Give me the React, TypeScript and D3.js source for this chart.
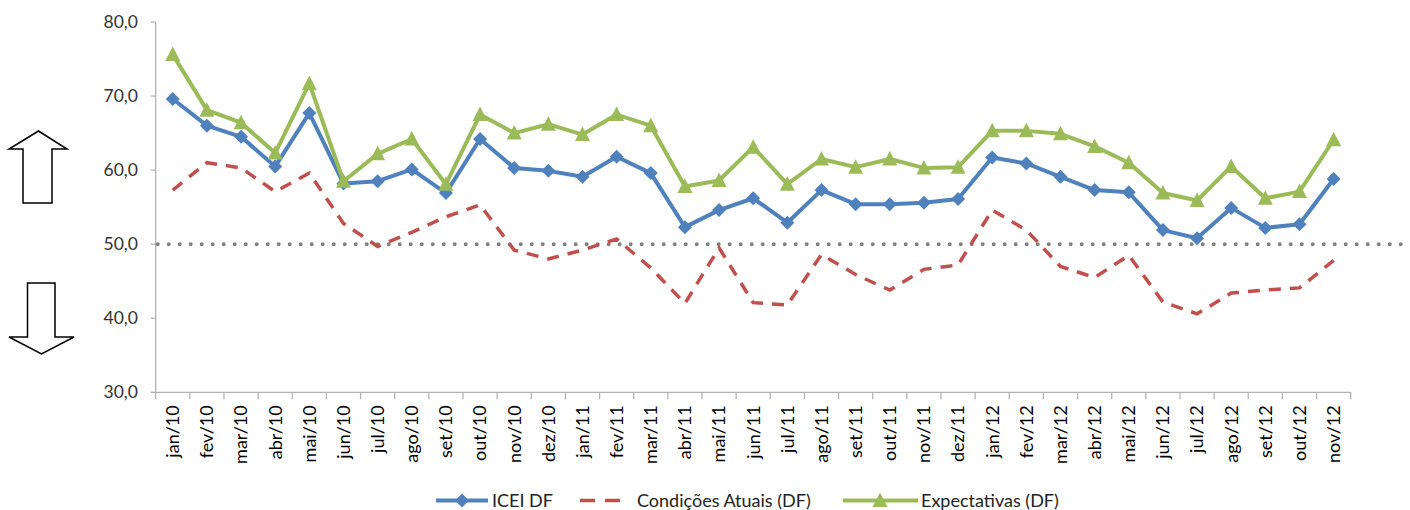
import * as d3 from "d3";

const months = [
  "jan/10", "fev/10", "mar/10", "abr/10", "mai/10", "jun/10", "jul/10", "ago/10", "set/10", "out/10", "nov/10", "dez/10",
  "jan/11", "fev/11", "mar/11", "abr/11", "mai/11", "jun/11", "jul/11", "ago/11", "set/11", "out/11", "nov/11", "dez/11",
  "jan/12", "fev/12", "mar/12", "abr/12", "mai/12", "jun/12", "jul/12", "ago/12", "set/12", "out/12", "nov/12",
];

const icei = [
  69.6, 66.0, 64.5, 60.5, 67.7, 58.2, 58.5, 60.1, 56.9, 64.2, 60.3, 59.9,
  59.1, 61.8, 59.6, 52.3, 54.6, 56.2, 52.9, 57.3, 55.4, 55.4, 55.6, 56.1,
  61.7, 60.9, 59.1, 57.3, 57.0, 51.9, 50.8, 54.9, 52.2, 52.7, 58.8,
];

const condicoes = [
  57.3, 61.0, 60.3, 57.1, 59.6, 52.8, 49.7, 51.6, 53.7, 55.3, 49.2, 48.0,
  49.2, 50.7, 46.8, 42.0, 49.5, 42.1, 41.8, 48.6, 45.9, 43.8, 46.6, 47.2,
  54.6, 51.9, 47.0, 45.5, 48.5, 42.2, 40.6, 43.4, 43.8, 44.1, 47.8,
];

const expectativas = [
  75.6, 68.1, 66.4, 62.3, 71.7, 58.5, 62.2, 64.2, 58.1, 67.5, 65.0, 66.2,
  64.8, 67.5, 66.0, 57.8, 58.6, 63.1, 58.1, 61.5, 60.4, 61.5, 60.3, 60.4,
  65.3, 65.3, 64.9, 63.2, 61.0, 56.9, 55.9, 60.5, 56.2, 57.1, 64.1,
];

const yTicks = [30, 40, 50, 60, 70, 80];
const threshold = 50;

const BLUE = "#4f81bd";
const RED = "#c0504d";
const GREEN = "#9bbb59";
const FONT = "Lato, 'Open Sans', sans-serif";

const diamond = "M0,-7L7,0L0,7L-7,0Z";
const triangle = "M0,-8L7.5,6.5L-7.5,6.5Z";

export default function App() {
  const width = 1410;
  const height = 510;
  const left = 155.7;
  const right = 1350.7;
  const top = 22;
  const bottom = 392.3;

  const x = d3.scaleBand<string>().domain(months).range([left, right]);
  const y = d3.scaleLinear().domain([30, 80]).range([bottom, top]);
  const cx = (m: string) => (x(m) ?? 0) + x.bandwidth() / 2;

  const line = d3
    .line<number>()
    .x((_, i) => cx(months[i]))
    .y((d) => y(d));

  const fmt = (v: number) => v.toFixed(1).replace(".", ",");
  const boundaries = [...months.map((m) => x(m) ?? 0), right];
  const ly = 500.5;

  return (
    <div style={{ position: "absolute", left: 0, top: 0 }}>
      <svg width={width} height={height} style={{ display: "block", background: "#fff" }}>
        {/* arrows */}
        <path d="M23,203 L23,149 L9,149 L38.5,131 L67,149 L52,149 L52,203 Z" fill="#fff" stroke="#000" strokeWidth={1.5} />
        <path d="M27.5,283 L55,283 L55,337 L74,337 L41.5,354 L9,337 L27.5,337 Z" fill="#fff" stroke="#000" strokeWidth={1.5} />

        {/* y axis */}
        <line x1={left} x2={left} y1={top} y2={bottom} stroke="#b3b3b3" strokeWidth={1.3} />
        {yTicks.map((t) => (
          <g key={t}>
            <line x1={left - 5} x2={left} y1={y(t)} y2={y(t)} stroke="#b3b3b3" strokeWidth={1.3} />
            <text x={138} y={y(t)} dy="0.35em" textAnchor="end" fontFamily={FONT} fontSize={17.5} fill="#333">
              {fmt(t)}
            </text>
          </g>
        ))}

        {/* x axis */}
        <line x1={left} x2={right} y1={bottom} y2={bottom} stroke="#b3b3b3" strokeWidth={1.3} />
        {boundaries.map((b, i) => (
          <line key={i} x1={b} x2={b} y1={bottom} y2={bottom + 7} stroke="#b3b3b3" strokeWidth={1.3} />
        ))}
        {months.map((m) => (
          <text
            key={m}
            transform={`translate(${cx(m)},${bottom + 13}) rotate(-90)`}
            textAnchor="end"
            dy="0.35em"
            fontFamily={FONT}
            fontSize={18}
            fill="#000"
          >
            {m}
          </text>
        ))}

        {/* 50 reference */}
        <line
          x1={left + 2}
          x2={1405}
          y1={y(threshold)}
          y2={y(threshold)}
          stroke="#808080"
          strokeWidth={4}
          strokeLinecap="round"
          strokeDasharray="0 11"
        />

        {/* series */}
        <path d={line(condicoes) ?? ""} fill="none" stroke={RED} strokeWidth={3.5} strokeDasharray="12 9" />
        <path d={line(icei) ?? ""} fill="none" stroke={BLUE} strokeWidth={4} strokeLinejoin="round" />
        {icei.map((v, i) => (
          <path key={i} d={diamond} transform={`translate(${cx(months[i])},${y(v)})`} fill={BLUE} />
        ))}
        <path d={line(expectativas) ?? ""} fill="none" stroke={GREEN} strokeWidth={4} strokeLinejoin="round" />
        {expectativas.map((v, i) => (
          <path key={i} d={triangle} transform={`translate(${cx(months[i])},${y(v)})`} fill={GREEN} />
        ))}

        {/* legend */}
        <g fontFamily={FONT} fontSize={18} fill="#222">
          <line x1={436} x2={488} y1={ly} y2={ly} stroke={BLUE} strokeWidth={4} />
          <path d={diamond} transform={`translate(462,${ly})`} fill={BLUE} />
          <text x={492} y={ly} dy="0.35em">ICEI DF</text>

          <line x1={580} x2={621} y1={ly} y2={ly} stroke={RED} strokeWidth={3.5} strokeDasharray="15 10" />
          <text x={637} y={ly} dy="0.35em">Condições Atuais (DF)</text>

          <line x1={843} x2={918} y1={ly} y2={ly} stroke={GREEN} strokeWidth={4} />
          <path d={triangle} transform={`translate(880,${ly})`} fill={GREEN} />
          <text x={921} y={ly} dy="0.35em">Expectativas (DF)</text>
        </g>
      </svg>
    </div>
  );
}
